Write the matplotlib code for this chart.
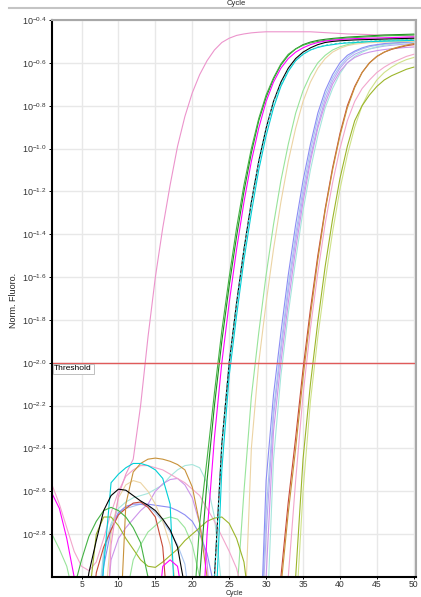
import numpy as np
import matplotlib.pyplot as plt
from matplotlib.lines import Line2D
from matplotlib.ticker import FixedLocator, NullLocator

plt.rcParams["font.family"] = "Liberation Sans"
plt.rcParams["mathtext.fontset"] = "custom"
plt.rcParams["mathtext.rm"] = "Liberation Sans"

# log10 of normalised fluorescence, one value per cycle (1..50)
# values of -3.5 sit below the visible range
B = -3.5
cycles = np.arange(1, 51)

pink_early = [B, B, B, B, B, B, B, B, -2.85, -2.62,
              -2.52, -2.45, -2.2, -1.88, -1.6, -1.37, -1.17, -0.99, -0.85, -0.74,
              -0.655, -0.59, -0.54, -0.505, -0.485, -0.472, -0.465, -0.46, -0.457, -0.455,
              -0.455, -0.455, -0.455, -0.455, -0.455, -0.455, -0.457, -0.459, -0.461, -0.463,
              -0.465, -0.466, -0.467, -0.468, -0.47, -0.471, -0.472, -0.473, -0.474, -0.475]
green = [B, B, B, -3.05, -2.92, -2.81, -2.74, -2.69, -2.675, -2.69,
         -2.72, -2.77, -2.84, -3.0, B, B, B, B, B, -3.25,
         -2.75, -2.45, -2.14, -1.85, -1.6, -1.37, -1.17, -1.0, -0.86, -0.75,
         -0.67, -0.605, -0.56, -0.535, -0.518, -0.507, -0.5, -0.495, -0.49, -0.487,
         -0.484, -0.482, -0.48, -0.478, -0.476, -0.474, -0.473, -0.472, -0.471, -0.47]
darkgreen = [B, B, B, B, B, B, B, B, B, B,
             B, B, B, B, B, B, B, B, B, B,
             -3.0, -2.55, -2.2, -1.9, -1.64, -1.41, -1.2, -1.02, -0.87, -0.76,
             -0.675, -0.61, -0.565, -0.535, -0.515, -0.503, -0.495, -0.49, -0.486, -0.483,
             -0.48, -0.478, -0.476, -0.474, -0.472, -0.47, -0.469, -0.468, -0.467, -0.466]
magenta = [-2.61, -2.68, -2.82, -3.0, B, B, B, B, B, B,
           B, B, B, B, -3.3, -2.95, -2.92, -2.95, -3.15, B,
           B, -2.8, -2.35, -2.0, -1.72, -1.47, -1.25, -1.06, -0.905, -0.78,
           -0.69, -0.625, -0.58, -0.55, -0.53, -0.515, -0.505, -0.498, -0.494, -0.491,
           -0.489, -0.487, -0.486, -0.485, -0.484, -0.483, -0.482, -0.481, -0.48, -0.479]
cyan = [B, B, B, B, B, B, -3.4, -2.95, -2.56, -2.52,
        -2.49, -2.47, -2.47, -2.48, -2.5, -2.54, -2.66, -3.4, B, B,
        B, B, -3.3, -2.5, -2.06, -1.78, -1.52, -1.3, -1.1, -0.94,
        -0.81, -0.71, -0.64, -0.59, -0.56, -0.54, -0.528, -0.52, -0.515, -0.51,
        -0.507, -0.505, -0.503, -0.501, -0.5, -0.499, -0.498, -0.497, -0.496, -0.495]
black = [B, B, B, B, -3.2, -2.98, -2.83, -2.69, -2.62, -2.59,
         -2.595, -2.62, -2.645, -2.665, -2.69, -2.73, -2.78, -2.86, -3.05, B,
         B, B, -3.0, -2.38, -2.0, -1.72, -1.47, -1.25, -1.06, -0.905,
         -0.78, -0.69, -0.625, -0.58, -0.55, -0.53, -0.515, -0.505, -0.5, -0.497,
         -0.495, -0.493, -0.492, -0.491, -0.49, -0.489, -0.488, -0.487, -0.486, -0.485]
teal = [B, B, B, B, B, B, B, B, B, B,
        B, B, B, B, B, B, B, B, B, B,
        B, B, -3.0, -2.38, -2.0, -1.72, -1.47, -1.25, -1.06, -0.905,
        -0.785, -0.7, -0.635, -0.59, -0.56, -0.54, -0.527, -0.518, -0.512, -0.508,
        -0.505, -0.503, -0.501, -0.499, -0.497, -0.495, -0.494, -0.493, -0.492, -0.491]
lightgreen = [-2.8, -2.87, -2.95, -3.1, B, B, B, B, B, B,
              -3.1, -2.92, -2.85, -2.79, -2.76, -2.73, -2.72, -2.73, -2.77, -2.85,
              -3.0, B, B, B, B, -3.1, -2.6, -2.16, -1.86, -1.59,
              -1.355, -1.15, -0.98, -0.835, -0.73, -0.655, -0.6, -0.565, -0.54, -0.525,
              -0.515, -0.508, -0.503, -0.5, -0.498, -0.496, -0.494, -0.492, -0.491, -0.49]
tan = [B, B, B, B, B, B, B, -3.2, -2.8, -2.63,
       -2.57, -2.55, -2.56, -2.6, -2.66, -2.74, -2.85, -3.1, B, B,
       B, B, B, B, B, B, -3.3, -2.4, -2.0, -1.72,
       -1.47, -1.25, -1.06, -0.905, -0.78, -0.69, -0.625, -0.58, -0.55, -0.532,
       -0.52, -0.513, -0.509, -0.506, -0.504, -0.503, -0.502, -0.501, -0.5, -0.5]
periwinkle = [B, B, B, B, B, B, -3.3, -2.95, -2.78, -2.7,
              -2.67, -2.66, -2.66, -2.66, -2.665, -2.67, -2.675, -2.69, -2.71, -2.74,
              -2.8, -2.89, -3.05, B, B, B, B, B, B, -2.55,
              -2.15, -1.86, -1.59, -1.355, -1.15, -0.98, -0.835, -0.73, -0.655, -0.6,
              -0.565, -0.545, -0.53, -0.52, -0.515, -0.51, -0.507, -0.505, -0.503, -0.5]
lightblue = [B, B, B, B, B, B, -3.3, -2.9, -2.76, -2.7,
             -2.68, -2.67, -2.66, -2.67, -2.7, -2.74, -2.79, -2.85, -2.94, -3.2,
             B, B, B, B, B, B, B, B, B, -2.7,
             -2.22, -1.92, -1.64, -1.4, -1.19, -1.01, -0.86, -0.75, -0.67, -0.615,
             -0.575, -0.55, -0.535, -0.525, -0.518, -0.513, -0.51, -0.507, -0.505, -0.503]
violet = [B, B, B, B, B, B, B, -3.3, -2.92, -2.82,
          -2.77, -2.73, -2.69, -2.66, -2.6, -2.565, -2.545, -2.54, -2.57, -2.63,
          -2.75, -2.93, -3.4, B, B, B, B, B, B, -3.0,
          -2.32, -2.0, -1.72, -1.47, -1.25, -1.06, -0.905, -0.79, -0.7, -0.64,
          -0.6, -0.575, -0.56, -0.55, -0.543, -0.538, -0.534, -0.531, -0.528, -0.526]
aqua = [B, B, B, B, B, B, -3.2, -2.88, -2.75, -2.68,
        -2.65, -2.63, -2.62, -2.61, -2.59, -2.57, -2.53, -2.5, -2.48, -2.475,
        -2.49, -2.56, -2.72, -3.05, B, B, B, B, B, -3.3,
        -2.45, -2.06, -1.77, -1.52, -1.29, -1.1, -0.94, -0.81, -0.72, -0.65,
        -0.6, -0.57, -0.55, -0.535, -0.525, -0.518, -0.513, -0.509, -0.506, -0.503]
lavender = [B, B, B, B, B, B, B, B, B, B,
            B, B, B, B, B, B, B, B, B, B,
            B, B, B, B, B, B, B, B, B, -2.8,
            -2.25, -1.95, -1.67, -1.43, -1.22, -1.04, -0.89, -0.77, -0.685, -0.625,
            -0.585, -0.56, -0.545, -0.535, -0.528, -0.522, -0.518, -0.515, -0.512, -0.51]
orange = [B, B, B, B, B, B, B, B, B, -3.4,
          -2.66, -2.51, -2.47, -2.45, -2.445, -2.45, -2.46, -2.475, -2.5, -2.58,
          -2.75, -3.0, B, B, B, B, B, B, B, B,
          B, -3.05, -2.7, -2.4, -2.07, -1.78, -1.52, -1.29, -1.1, -0.94,
          -0.81, -0.715, -0.645, -0.6, -0.57, -0.55, -0.535, -0.525, -0.517, -0.51]
red = [B, B, B, B, B, -3.3, -2.98, -2.86, -2.78, -2.71,
       -2.68, -2.655, -2.65, -2.675, -2.72, -2.86, -3.3, B, B, B,
       B, B, B, B, B, B, B, B, B, B,
       B, -3.0, -2.65, -2.35, -2.03, -1.75, -1.5, -1.28, -1.09, -0.93,
       -0.8, -0.71, -0.645, -0.6, -0.57, -0.55, -0.537, -0.528, -0.52, -0.515]
pink_late = [-2.57, -2.66, -2.77, -2.88, -2.95, -2.97, -2.93, -2.82, -2.7, -2.6,
             -2.53, -2.5, -2.48, -2.48, -2.49, -2.5, -2.52, -2.54, -2.56, -2.59,
             -2.62, -2.68, -2.74, -2.81, -2.88, -2.96, -3.1, B, B, B,
             B, B, -3.0, -2.55, -2.15, -1.84, -1.58, -1.35, -1.16, -1.0,
             -0.87, -0.78, -0.72, -0.68, -0.645, -0.62, -0.6, -0.585, -0.57, -0.56]
olive = [B, B, B, B, B, -3.1, -2.8, -2.72, -2.72, -2.76,
         -2.82, -2.87, -2.92, -2.95, -2.955, -2.93, -2.9, -2.87, -2.83, -2.8,
         -2.77, -2.74, -2.725, -2.72, -2.75, -2.82, -2.93, -3.2, B, B,
         B, B, B, -3.0, -2.45, -2.1, -1.81, -1.55, -1.33, -1.14,
         -0.99, -0.87, -0.8, -0.75, -0.71, -0.68, -0.66, -0.645, -0.63, -0.62]
lime_light = [B, B, B, B, B, B, B, B, B, B,
              B, B, B, B, B, B, B, B, B, B,
              B, B, B, B, B, B, B, B, B, B,
              B, B, B, -3.2, -2.6, -2.18, -1.88, -1.62, -1.39, -1.19,
              -1.03, -0.9, -0.8, -0.73, -0.68, -0.645, -0.62, -0.6, -0.585, -0.575]

threshold_log = -2.0
ytick_exps = [-2.8, -2.6, -2.4, -2.2, -2.0, -1.8, -1.6, -1.4, -1.2, -1.0, -0.8, -0.6, -0.4]
ytick_labels = [r"$10^{-2.8}$", r"$10^{-2.6}$", r"$10^{-2.4}$", r"$10^{-2.2}$",
                r"$10^{-2.0}$", r"$10^{-1.8}$", r"$10^{-1.6}$", r"$10^{-1.4}$",
                r"$10^{-1.2}$", r"$10^{-1.0}$", r"$10^{-0.8}$", r"$10^{-0.6}$",
                r"$10^{-0.4}$"]
xticks = [5, 10, 15, 20, 25, 30, 35, 40, 45, 50]

# drawing order and colours
series = [
    (lime_light, "#cfe28a", "-"),
    (lavender, "#b8a8f4", "-"),
    (aqua, "#a6e6dc", "-"),
    (lightblue, "#a8c4f0", "-"),
    (violet, "#cc94ea", "-"),
    (periwinkle, "#8c8cf4", "-"),
    (tan, "#ecd4a4", "-"),
    (lightgreen, "#98e49a", "-"),
    (pink_late, "#f2a6cc", "-"),
    (olive, "#9cb52a", "-"),
    (red, "#c84a38", "-"),
    (orange, "#c8923a", "-"),
    (pink_early, "#ec94cc", "-"),
    (cyan, "#00cfd6", "-"),
    (darkgreen, "#1e8c1e", "-"),
    (green, "#45b345", "-"),
    (magenta, "#ff00ff", "-"),
    (black, "#000000", "-"),
    (teal, "#30d0d0", (0, (2, 2))),
]

fig = plt.figure(figsize=(4.21, 5.97), dpi=100)
ax = fig.add_axes([52 / 421, 1 - 577 / 597, 364 / 421, 557 / 597])

for vals, col, ls in series:
    ax.plot(cycles, 10 ** np.array(vals), color=col, lw=0.8, linestyle=ls)

ax.axhline(10 ** threshold_log, color="#e05a5a", lw=1.0)
ax.text(1.3, 10 ** (threshold_log - 0.012), "Threshold", fontsize=6, va="top", ha="left",
        bbox=dict(boxstyle="square,pad=0.2", fc="white", ec="#b4b4b4", lw=0.6))

ax.set_yscale("log")
ax.set_ylim(1e-3, 10 ** -0.4)
ax.set_xlim(1, 50.3)
ax.yaxis.set_major_locator(FixedLocator([10 ** e for e in ytick_exps]))
ax.yaxis.set_minor_locator(NullLocator())
ax.set_yticklabels(ytick_labels, fontsize=6.5, color="#333333")
ax.set_xticks(xticks)
ax.set_xticklabels([str(t) for t in xticks], fontsize=6.2, color="#333333")
ax.tick_params(axis="y", length=2, width=0.7, pad=2)
ax.tick_params(axis="x", length=1.5, width=0.7, pad=1)

ax.grid(True, color="#e8e8e8", lw=1)
ax.set_axisbelow(True)

ax.spines["left"].set_linewidth(1.5)
ax.spines["bottom"].set_linewidth(1.5)
ax.spines["top"].set_color("#a8a8a8")
ax.spines["right"].set_color("#a8a8a8")
ax.spines["top"].set_linewidth(1.5)
ax.spines["right"].set_linewidth(1.5)

fig.text(14 / 421, 1 - 300 / 597, "Norm. Fluoro.", rotation=90, fontsize=6.5,
         ha="center", va="center", color="#222222")
fig.text(234 / 421, 1 - 593.5 / 597, "Cycle", fontsize=5, ha="center", va="center",
         color="#222222")
# remains of the panel above
fig.add_artist(Line2D([9 / 421, 1.0], [1 - 7.5 / 597] * 2, color="#c4c4c4", lw=1.5))
fig.text(236 / 421, 1 - 3.6 / 597, "Cycle", fontsize=5.5, ha="center", va="center",
         color="#222222")

plt.savefig("out.png", dpi=100)
